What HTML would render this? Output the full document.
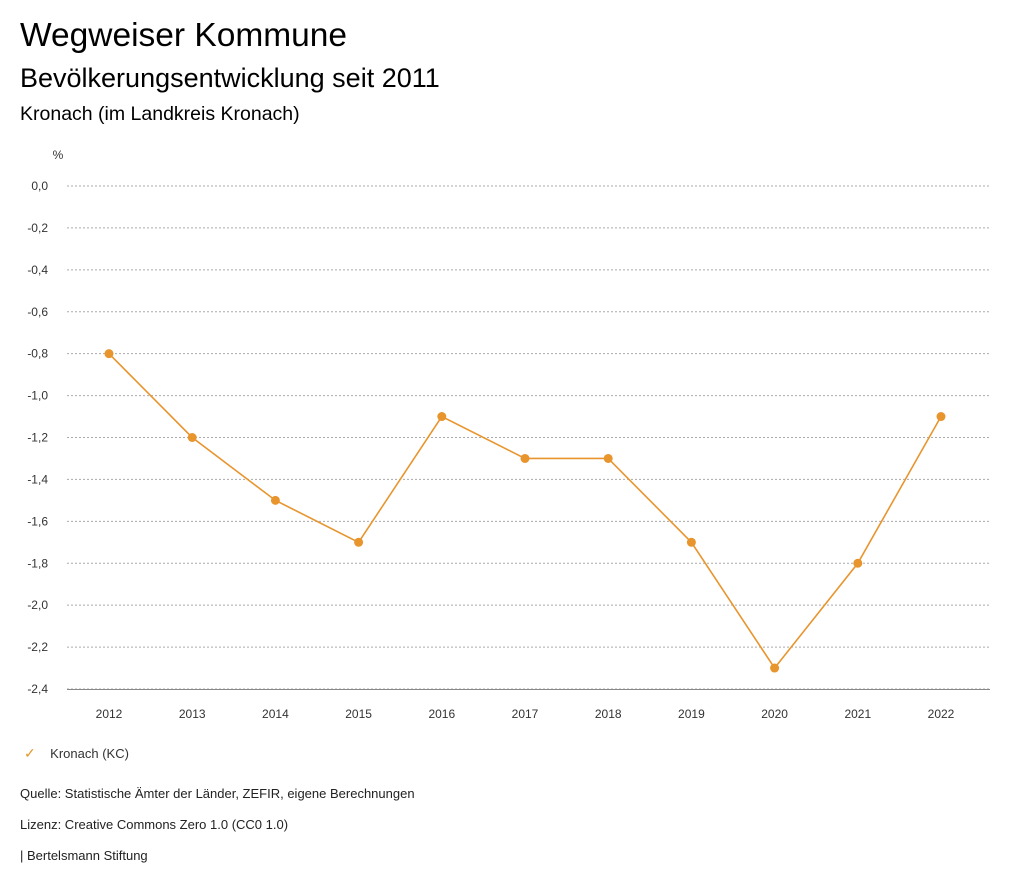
<!DOCTYPE html>
<html><head><meta charset="utf-8"><style>
body{margin:0;width:1024px;height:888px;background:#fff;font-family:"Liberation Sans",sans-serif;color:#000;overflow:hidden}
.t{position:absolute;white-space:nowrap}
</style></head><body>
<div class="t" style="left:20px;top:17px;font-size:33.5px">Wegweiser Kommune</div>
<div class="t" style="left:20px;top:63px;font-size:27px">Bevölkerungsentwicklung seit 2011</div>
<div class="t" style="left:20px;top:103px;font-size:19.5px">Kronach (im Landkreis Kronach)</div>
<svg id="chart" width="1024" height="740" style="position:absolute;left:0;top:0"></svg>
<div class="t" style="left:24px;top:745px;font-size:13px;color:#333"><span style="color:#e8952e;font-size:14px">✓</span>&nbsp;&nbsp;&nbsp; Kronach (KC)</div>
<div class="t" style="left:20px;top:786px;font-size:13px;color:#222">Quelle: Statistische Ämter der Länder, ZEFIR, eigene Berechnungen</div>
<div class="t" style="left:20px;top:817px;font-size:13px;color:#222">Lizenz: Creative Commons Zero 1.0 (CC0 1.0)</div>
<div class="t" style="left:20px;top:848px;font-size:13px;color:#222">| Bertelsmann Stiftung</div>
<script>
const years=[2012,2013,2014,2015,2016,2017,2018,2019,2020,2021,2022];
const values=[-0.8,-1.2,-1.5,-1.7,-1.1,-1.3,-1.3,-1.7,-2.3,-1.8,-1.1];
const yTicks=[0,-0.2,-0.4,-0.6,-0.8,-1.0,-1.2,-1.4,-1.6,-1.8,-2.0,-2.2,-2.4];
const svg=document.getElementById('chart');
const NS='http://www.w3.org/2000/svg';
const x=v=>109+(v-2012)*83.2;
const y=v=>186+(-v/2.4)*503;
function mk(tag,attrs){const e=document.createElementNS(NS,tag);for(const k in attrs)e.setAttribute(k,attrs[k]);svg.appendChild(e);return e;}
let t=mk('text',{x:58,y:159,'font-size':12,'text-anchor':'middle',fill:'#333'});t.textContent='%';


yTicks.forEach(v=>{
  const g=mk('line',{x1:67,x2:990,y1:y(v),y2:y(v),stroke:'#aaa','stroke-dasharray':'2,2','stroke-width':1});
  
  
  const l=mk('text',{x:48,y:y(v)+4,'font-size':12,'text-anchor':'end',fill:'#333'});
  l.textContent=v.toFixed(1).replace('.',',').replace('-0,0','0,0');
  
  
});
const ax=mk('line',{x1:67,x2:990,y1:689.5,y2:689.5,stroke:'#888','stroke-width':1});


years.forEach(yr=>{
  const l=mk('text',{x:x(yr),y:718,'font-size':12,'text-anchor':'middle',fill:'#333'});
  l.textContent=yr;
  
  
});
const pl=mk('polyline',{points:years.map((yr,i)=>x(yr)+','+y(values[i])).join(' '),fill:'none',stroke:'#e8952e','stroke-width':1.6});


years.forEach((yr,i)=>{
  const c=mk('circle',{cx:x(yr),cy:y(values[i]),r:4.5,fill:'#e8952e'});
  
  
});
</script>
</body></html>
